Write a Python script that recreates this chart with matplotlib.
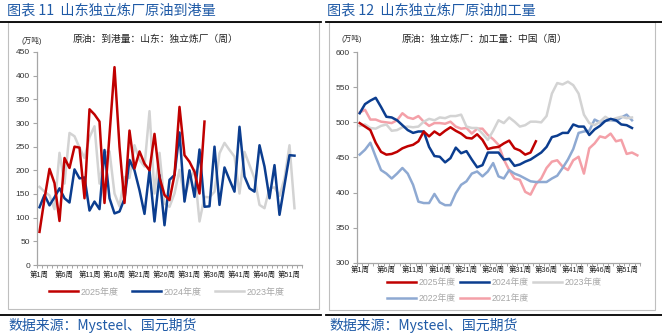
import matplotlib
matplotlib.use("Agg")
import matplotlib.pyplot as plt
from matplotlib.patches import Rectangle
from matplotlib.lines import Line2D

plt.rcParams['font.family'] = ['Liberation Sans', 'Noto Sans CJK SC']

# ---------------- data ----------------
weeks = list(range(1, 54))
tick_weeks = [1, 6, 11, 16, 21, 26, 31, 36, 41, 46, 51]
tick_labels = ['第1周', '第6周', '第11周', '第16周', '第21周', '第26周',
               '第31周', '第36周', '第41周', '第46周', '第51周']

# Chart 11: crude arrivals at port, Shandong independent refineries (10k t)
arr_2025 = [70, 140, 203, 173, 93, 226, 205, 250, 248, 141, 329, 318, 303, 131, 275,
            418, 250, 131, 284, 204, 240, 214, 200, 277, 185, 148, 137, 190, 334, 232,
            218, 197, 151, 303]
arr_2024 = [122, 148, 126, 143, 162, 141, 132, 202, 183, 185, 115, 134, 118, 243, 141,
            109, 113, 140, 222, 200, 158, 108, 200, 92, 190, 84, 180, 190, 280, 134,
            200, 144, 244, 123, 124, 250, 127, 206, 180, 155, 292, 187, 162, 155, 253,
            208, 141, 211, 106, 169, 232, 231]
arr_2023 = [165, 155, 147, 118, 237, 172, 279, 272, 248, 226, 270, 293, 172, 238, 240,
            151, 124, 186, 184, 253, 222, 208, 325, 151, 237, 130, 123, 151, 201, 144,
            179, 201, 92, 144, 143, 155, 236, 258, 243, 229, 151, 239, 211, 183, 127,
            120, 162, 164, 146, 183, 253, 120]

# Chart 12: crude processing volume, independent refineries (10k t)
proc_2025 = [499, 494, 489, 471, 458, 454, 455, 458, 463, 466, 468, 473, 487, 480, 487,
             482, 488, 493, 488, 484, 478, 477, 483, 475, 462, 464, 465, 470, 474, 463,
             460, 454, 457, 473]
proc_2024 = [513, 526, 531, 535, 522, 508, 507, 503, 496, 489, 485, 487, 487, 465, 452,
             451, 443, 449, 464, 456, 459, 447, 436, 439, 457, 457, 457, 447, 448, 438,
             440, 444, 447, 452, 457, 465, 479, 481, 485, 485, 497, 494, 494, 482, 490,
             495, 502, 505, 503, 497, 496, 492]
proc_2023 = [495, 497, 492, 491, 495, 497, 488, 489, 493, 494, 493, 494, 501, 505, 503,
             507, 506, 509, 509, 511, 494, 492, 492, 484, 475, 488, 503, 499, 507, 501,
             494, 496, 501, 501, 500, 509, 541, 556, 554, 558, 553, 541, 511, 499, 496,
             501, 508, 503, 506, 508, 506, 507]
proc_2022 = [454, 461, 471, 451, 432, 427, 420, 427, 435, 427, 411, 387, 385, 385, 398,
             386, 382, 382, 399, 411, 416, 427, 430, 423, 430, 442, 423, 420, 432, 427,
             424, 420, 416, 415, 415, 415, 420, 424, 435, 447, 462, 485, 487, 488, 504,
             500, 502, 503, 502, 507, 511, 503]
proc_2021 = [514, 518, 504, 504, 501, 500, 499, 503, 513, 507, 505, 509, 501, 495, 499,
             499, 498, 501, 494, 491, 492, 484, 491, 491, 482, 476, 468, 447, 432, 420,
             418, 401, 397, 412, 420, 435, 444, 446, 437, 432, 446, 451, 427, 463, 470,
             480, 478, 484, 473, 475, 455, 457, 453]

C25, C24, C23, C22, C21 = '#C00000', '#0B3D8F', '#D3D3D3', '#8EA9D2', '#F4A0A8'
TITLE_C = '#1F5AA6'
AX_C = '#A6A6A6'
W, H = 662, 335

fig = plt.figure(figsize=(W / 100, H / 100), dpi=100)


def fx(px):
    return px / W


def fy(py):
    return 1 - py / H


def style_axes(ax, ymin, ymax, ystep, xpad):
    ax.set_xlim(0.5, 53.5)
    ax.set_ylim(ymin, ymax)
    ax.set_yticks(list(range(ymin, ymax + 1, ystep)))
    ax.set_xticks(tick_weeks)
    ax.set_xticklabels(tick_labels)
    ax.set_xticks([w + 0.5 for w in range(0, 54)], minor=True)
    for s in ['top', 'right']:
        ax.spines[s].set_visible(False)
    for s in ['left', 'bottom']:
        ax.spines[s].set_color(AX_C)
        ax.spines[s].set_linewidth(0.9)
    ax.tick_params(axis='y', length=3, width=0.8, color=AX_C, labelsize=6, pad=2,
                   labelcolor='#333333')
    ax.tick_params(axis='x', which='major', length=0, labelsize=5.3, pad=xpad,
                   labelcolor='#222222')
    ax.tick_params(axis='x', which='minor', length=2.5, width=0.7, color=AX_C)
    ax.set_facecolor('white')


# ---- panel frames / separators ----
fig.add_artist(Rectangle((fx(8), fy(309)), fx(319) - fx(8), fy(22) - fy(309),
                         transform=fig.transFigure, fill=False, ec='#BFBFBF', lw=0.8))
fig.add_artist(Rectangle((fx(329), fy(310)), fx(655) - fx(329), fy(22) - fy(310),
                         transform=fig.transFigure, fill=False, ec='#BFBFBF', lw=0.8))
for (x0, x1) in [(0, 321), (326, 662)]:
    for yy in [22, 315]:
        fig.add_artist(Line2D([fx(x0), fx(x1)], [fy(yy), fy(yy)],
                              transform=fig.transFigure, color='black', lw=1.3))

# ---- titles & source ----
fig.text(fx(7), fy(10), '图表 11  山东独立炼厂原油到港量', fontsize=10.2, color=TITLE_C,
         va='center', ha='left', family=['Noto Sans CJK SC'])
fig.text(fx(327), fy(10), '图表 12  山东独立炼厂原油加工量', fontsize=10.2, color=TITLE_C,
         va='center', ha='left', family=['Noto Sans CJK SC'])
fig.text(fx(8), fy(325), '数据来源：Mysteel、国元期货', fontsize=10, color=TITLE_C,
         va='center', ha='left', family=['Noto Sans CJK SC'])
fig.text(fx(329), fy(325), '数据来源：Mysteel、国元期货', fontsize=10, color=TITLE_C,
         va='center', ha='left', family=['Noto Sans CJK SC'])

# ---- left chart ----
ax1 = fig.add_axes([fx(37), fy(265), fx(302) - fx(37), fy(52) - fy(265)])
style_axes(ax1, 0, 450, 50, 5)
ax1.plot(weeks[:len(arr_2023)], arr_2023, color=C23, lw=1.8, label='2023年度')
ax1.plot(weeks[:len(arr_2024)], arr_2024, color=C24, lw=1.8, label='2024年度')
ax1.plot(weeks[:len(arr_2025)], arr_2025, color=C25, lw=1.8, label='2025年度')
h, l = ax1.get_legend_handles_labels()
order = [2, 1, 0]
fig.legend([h[i] for i in order], [l[i] for i in order], loc='center',
           bbox_to_anchor=(fx(167), fy(292)), ncol=3, frameon=False, fontsize=6.5,
           labelcolor='#A6A6A6', handlelength=3.2, handletextpad=0.3, columnspacing=1.5)
fig.text(fx(22), fy(41), '(万吨)', fontsize=5.5, color='#333333', va='center', ha='left')
fig.text(fx(73), fy(39), '原油：到港量：山东：独立炼厂（周）', fontsize=7, color='#222222',
         va='center', ha='left')

# ---- right chart ----
ax2 = fig.add_axes([fx(357), fy(262.7), fx(640) - fx(357), fy(52.2) - fy(262.7)])
style_axes(ax2, 300, 600, 50, 3)
ax2.plot(weeks[:len(proc_2021)], proc_2021, color=C21, lw=1.8, label='2021年度')
ax2.plot(weeks[:len(proc_2022)], proc_2022, color=C22, lw=1.8, label='2022年度')
ax2.plot(weeks[:len(proc_2023)], proc_2023, color=C23, lw=1.8, label='2023年度')
ax2.plot(weeks[:len(proc_2024)], proc_2024, color=C24, lw=1.8, label='2024年度')
ax2.plot(weeks[:len(proc_2025)], proc_2025, color=C25, lw=1.8, label='2025年度')
h, l = ax2.get_legend_handles_labels()
# rows: 2025 2024 2023 / 2022 2021  (matplotlib fills column-wise)
order = [4, 1, 3, 0, 2]
fig.legend([h[i] for i in order], [l[i] for i in order], loc='center',
           bbox_to_anchor=(fx(494), fy(290.5)), ncol=3, frameon=False, fontsize=6.3,
           labelcolor='#A6A6A6', handlelength=3.3, handletextpad=0.3, columnspacing=0.5,
           labelspacing=0.8)
fig.text(fx(342), fy(39), '(万吨)', fontsize=5.5, color='#333333', va='center', ha='left')
fig.text(fx(402), fy(39), '原油：独立炼厂：加工量：中国（周）', fontsize=7, color='#222222',
         va='center', ha='left')

fig.savefig('out.png', dpi=100, facecolor='white')
